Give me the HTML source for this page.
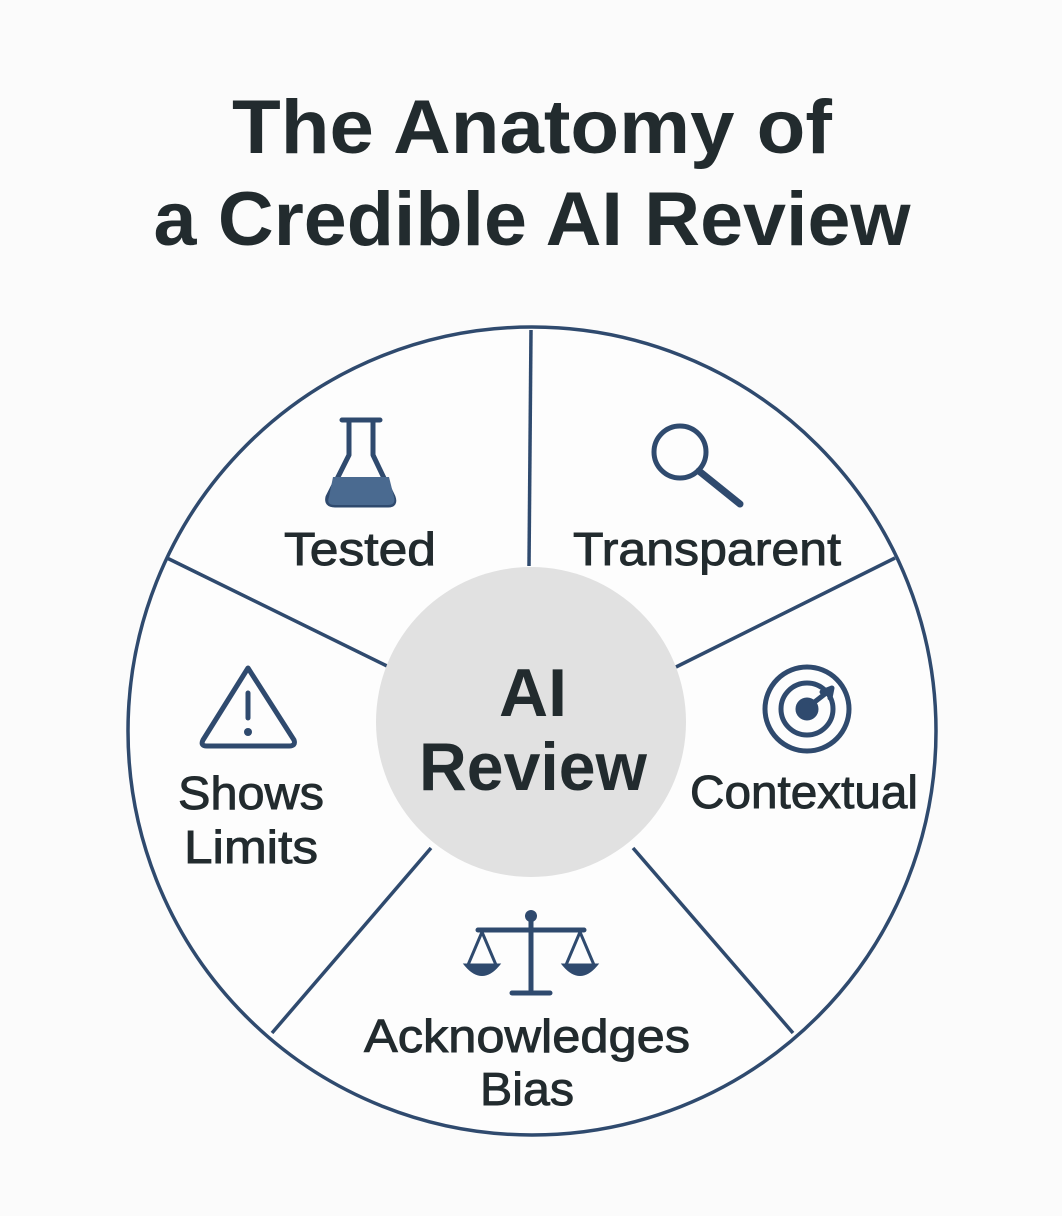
<!DOCTYPE html>
<html><head><meta charset="utf-8"><style>
html,body{margin:0;padding:0;background:#fbfbfb;}
svg{display:block}
text{font-family:"Liberation Sans","DejaVu Sans",sans-serif;fill:#222b2e;text-anchor:middle}
.l{font-size:46px;stroke:#222b2e;stroke-width:0.9}
</style></head><body>
<svg width="1062" height="1216" viewBox="0 0 1062 1216" xmlns="http://www.w3.org/2000/svg">
<rect width="1062" height="1216" fill="#fbfbfb"/>
<text x="532" y="153" font-size="76" font-weight="bold" textLength="600" lengthAdjust="spacingAndGlyphs">The Anatomy of</text>
<text x="532" y="245" font-size="76" font-weight="bold" textLength="757" lengthAdjust="spacingAndGlyphs">a Credible AI Review</text>
<g stroke="#2f4a6e" stroke-width="3.5" fill="none">
<circle cx="532" cy="731" r="404" fill="#fdfdfd"/>
<line x1="531" y1="330" x2="529" y2="566"/>
<line x1="167" y1="558" x2="389" y2="667"/>
<line x1="895" y1="558" x2="676" y2="667"/>
<line x1="272" y1="1033" x2="431" y2="848"/>
<line x1="793" y1="1033" x2="633" y2="848"/>
</g>
<circle cx="531" cy="722" r="155" fill="#e1e1e1"/>
<text x="533" y="716" font-size="68" font-weight="bold">AI</text>
<text x="533" y="790" font-size="68" font-weight="bold" textLength="228" lengthAdjust="spacingAndGlyphs">Review</text>
<text class="l" x="360" y="565" textLength="152" lengthAdjust="spacingAndGlyphs">Tested</text>
<text class="l" x="707" y="565" textLength="268" lengthAdjust="spacingAndGlyphs">Transparent</text>
<text class="l" x="804" y="808" textLength="228" lengthAdjust="spacingAndGlyphs">Contextual</text>
<text class="l" x="251" y="809" textLength="146" lengthAdjust="spacingAndGlyphs">Shows</text>
<text class="l" x="251" y="863" textLength="134" lengthAdjust="spacingAndGlyphs">Limits</text>
<text class="l" x="527" y="1052" textLength="326" lengthAdjust="spacingAndGlyphs">Acknowledges</text>
<text class="l" x="527" y="1105" textLength="94" lengthAdjust="spacingAndGlyphs">Bias</text>
<g stroke="#2f4a6e" stroke-width="5" fill="none" stroke-linecap="round" stroke-linejoin="round">
<path d="M342 420 L380 420 M349 420 L349 455 L328 497 Q326 505 335 505 L388 505 Q396 505 393 497 L373 455 L373 420"/>
<circle cx="680" cy="452" r="26"/>
<line x1="699" y1="471" x2="740" y2="504" stroke-width="7"/>
<circle cx="807" cy="709" r="42"/>
<circle cx="807" cy="709" r="26"/>
<circle cx="807" cy="709" r="9" fill="#2f4a6e"/>
<path d="M812 704 L830 690 M822 692 L832 688 L830 698"/>
<path d="M248 668 L294 740 Q296 746 289 746 L207 746 Q200 746 203 740 Z"/>
<line x1="248" y1="693" x2="248" y2="718"/>
<line x1="531" y1="918" x2="531" y2="990"/>
<line x1="478" y1="930" x2="584" y2="930"/>
<path d="M512 993 L550 993"/>
</g>
<path d="M333 477 L389 477 L394 497 Q396 505 388 505 L335 505 Q326 505 329 497 Z" fill="#4a6a90"/>
<circle cx="248" cy="732" r="4" fill="#2f4a6e"/>
<circle cx="531" cy="916" r="6" fill="#2f4a6e"/>
<g fill="#2f4a6e" stroke="#2f4a6e" stroke-width="3">
<path d="M466 965 L498 965 Q482 984 466 965 Z"/>
<path d="M564 965 L596 965 Q580 984 564 965 Z"/>
<path d="M482 932 L468 965 M482 932 L496 965 M580 932 L566 965 M580 932 L594 965" fill="none"/>
</g>
</svg>
</body></html>
